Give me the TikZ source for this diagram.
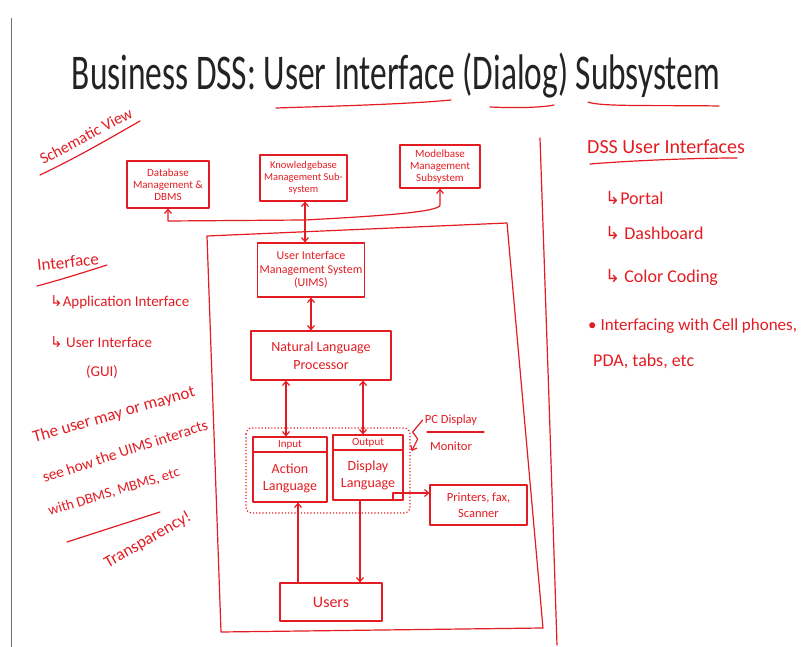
\documentclass[tikz,border=0pt]{standalone}
\usepackage{fontspec}
\setmainfont{Carlito}
\newfontfamily\symfont{DejaVu Sans}
\usetikzlibrary{arrows.meta}
\definecolor{ink}{RGB}{226,28,34}
\definecolor{edgegray}{RGB}{110,110,110}
\definecolor{titleink}{RGB}{35,35,35}
\newcommand{\hookarrow}{{\symfont\char"21B3}}
\newcommand{\fsz}[2]{\fontsize{#1}{#2}\selectfont}
\tikzset{
  inkline/.style={draw=ink, line width=1.2pt, line cap=round, line join=round},
  box/.style={inkline, text=ink, inner sep=0pt, align=center},
  hand/.style={text=ink, inner sep=0pt, align=center},
  harrow/.style={inkline, -{Straight Barb[length=4pt,width=7pt]}},
  darrow/.style={inkline, {Straight Barb[length=4pt,width=7pt]}-{Straight Barb[length=4pt,width=7pt]}},
}
\begin{document}
\begin{tikzpicture}[x=1pt,y=-1pt]
\useasboundingbox (0,0) rectangle (807,647);
% slide edge
\draw[edgegray, line width=0.8pt] (11,18) -- (11,647);
% title
\node[anchor=base, font=\fsz{50}{60}, text=titleink, inner sep=0pt] (title) at (396,90)
  {\scalebox{0.668}[1]{Business DSS: User Interface (Dialog) Subsystem}};
\draw[inkline] (276,108) .. controls (340,106) and (410,104) .. (451,100);
\draw[inkline] (490,107) .. controls (510,108) and (540,108) .. (554,105);
\draw[inkline] (588,102) .. controls (600,107) and (660,105) .. (719,106);
% separator
\draw[inkline] (540,138) -- (549,400) -- (557,645);

% top boxes
\node[box, font=\fsz{11}{12}, minimum width=82pt, minimum height=47pt] (dbms) at (168,184.5)
  {Database\\Management \&\\DBMS};
\node[box, font=\fsz{10.5}{12}, minimum width=87pt, minimum height=46pt] (know) at (303.5,178)
  {Knowledgebase\\Management Sub-\\system};
\node[box, font=\fsz{11}{12}, minimum width=80pt, minimum height=43pt] (model) at (440,166.5)
  {Modelbase\\Management\\Subsystem};
\coordinate (j1) at (168,221);
\coordinate (j2) at (305,220);
\coordinate (j3) at (440,205);
\draw[harrow] (j2) -- (j1) -- (dbms.south);
\draw[harrow] (j2) .. controls (380,216) and (440,212) .. (j3) -- (model.south);

% big container
\coordinate (b1) at (207,236);
\coordinate (b2) at (507,223);
\coordinate (b3) at (543,628);
\coordinate (b4) at (221,632);
\draw[inkline] (b1) -- (b2) -- (b3) -- (b4) -- cycle;

% inner boxes
\node[box, font=\fsz{12}{13.5}, minimum width=107pt, minimum height=54pt] (uims) at (311,270)
  {User Interface\\Management System\\(UIMS)};
\node[box, font=\fsz{14}{18}, minimum width=140pt, minimum height=49pt] (nlp) at (321,355.5)
  {Natural Language\\Processor};
\draw[darrow] (know.south -| j2) -- (j2 |- uims.north);
\draw[darrow] (uims.south) -- (uims.south |- nlp.north);

\node[box, minimum width=74pt, minimum height=65pt] (input) at (290,469.5) {};
\node[box, minimum width=70pt, minimum height=65pt] (output) at (368,467.5) {};
\draw[inkline] (input.west |- 0,452) -- (input.east |- 0,452);
\draw[inkline] (output.west |- 0,450) -- (output.east |- 0,450);
\node[hand, font=\fsz{11}{12}] (inlab) at (290,444.5) {Input};
\node[hand, font=\fsz{11}{12}] (outlab) at (368,442.5) {Output};
\node[hand, font=\fsz{14}{17}] (action) at (290,478) {Action\\Language};
\node[hand, font=\fsz{14}{17}] (display) at (368,475) {Display\\Language};
\draw[ink, line width=1.2pt, dotted, rounded corners=6pt] (246,428) rectangle (410,513);

\draw[darrow] ([xshift=-4pt]input.north) -- ([xshift=-4pt]input.north |- nlp.south);
\draw[darrow] ([xshift=-5pt]output.north) -- ([xshift=-5pt]output.north |- nlp.south);

\node[box, font=\fsz{12.5}{16}, minimum width=97pt, minimum height=40pt] (printer) at (478.5,505)
  {Printers, fax,\\Scanner};
\node[box, font=\fsz{16}{18}, minimum width=102pt, minimum height=38pt] (users) at (331,602)
  {Users};
\draw[harrow] ([xshift=8pt]input.south |- users.north) -- ([xshift=8pt]input.south);
\draw[harrow] ([xshift=-8pt]output.south) -- ([xshift=-8pt]output.south |- users.north);
\draw[harrow] ([xshift=25pt]output.south) |- ([yshift=12pt]printer.west);

% PC display
\node[hand, font=\fsz{12.5}{14}] (pc) at (451,420) {PC Display};
\node[hand, font=\fsz{12.5}{14}] (mon) at (451,446) {Monitor};
\draw[inkline] (427,432) -- (484,432);
\draw[harrow] ([xshift=-2pt]pc.west) -- ++(-10,12) -- ++(5,7) -- ++(-6,12);

% left notes
\node[hand, font=\fsz{16}{18}, rotate=28] (schem) at (86,136) {Schematic View};
\draw[inkline] (40,175) .. controls (80,156) and (110,138) .. (140,121);
\node[hand, font=\fsz{17}{20}, rotate=6] (intf) at (68,262) {Interface};
\draw[inkline] (37,286) .. controls (60,280) and (85,272) .. (107,265);
\node[hand, font=\fsz{15}{18}, anchor=west] (app) at (50,302) {\hookarrow Application Interface};
\node[hand, font=\fsz{15}{18}, anchor=west] (gui) at (50,342) {\hookarrow\ User Interface};
\node[hand, font=\fsz{15}{18}] (guil) at (102,372) {(GUI)};
\node[hand, font=\fsz{17}{20}, rotate=16] (t1) at (114,415) {The user may or maynot};
\node[hand, font=\fsz{15.5}{18}, rotate=18] (t2) at (125,451) {see how the UIMS interacts};
\node[hand, font=\fsz{14.5}{18}, rotate=17] (t3) at (114,492) {with DBMS, MBMS, etc};
\draw[inkline] (67,542) -- (160,512);
\node[hand, font=\fsz{17}{20}, rotate=30] (t4) at (148,540) {Transparency!};

% right notes
\node[hand, font=\fsz{20}{22}, anchor=west] (dssui) at (587,147) {DSS User Interfaces};
\draw[inkline] (590,164) .. controls (640,160) and (700,158) .. (737,158);
\node[hand, font=\fsz{18}{20}, anchor=west] (portal) at (605,198) {\hookarrow Portal};
\node[hand, font=\fsz{18}{20}, anchor=west] (dash) at (605,233) {\hookarrow\ Dashboard};
\node[hand, font=\fsz{18}{20}, anchor=west] (color) at (605,277) {\hookarrow\ Color Coding};
\node[hand, font=\fsz{17}{20}, anchor=west] (cell) at (588,326) {• Interfacing with Cell phones,};
\node[hand, font=\fsz{18}{20}, anchor=west] (pda) at (593,361) {PDA, tabs, etc};
\end{tikzpicture}
\end{document}
